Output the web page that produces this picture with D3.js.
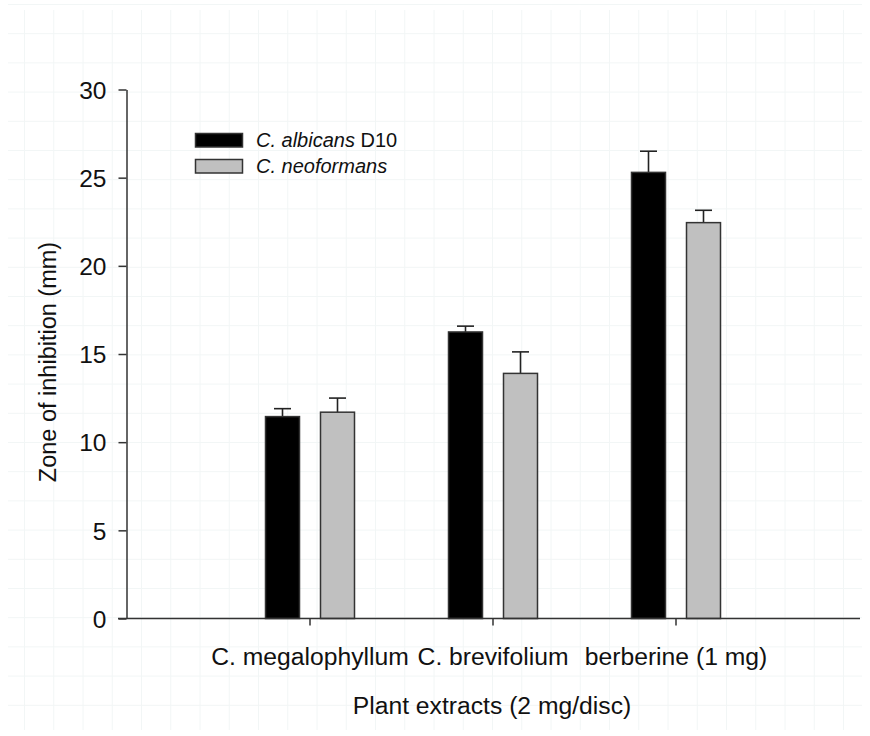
<!DOCTYPE html>
<html>
<head>
<meta charset="utf-8">
<script src="https://cdn.jsdelivr.net/npm/d3@7/dist/d3.min.js"></script>
<style>
  html, body { margin: 0; padding: 0; background: #fff; }
  svg { display: block; }
  text { font-family: "Liberation Sans", Arial, Helvetica, sans-serif; fill: #111; }
</style>
</head>
<body>
<svg id="chart" width="870" height="736"></svg>
<script>
// Plant extracts tested (2 mg/disc; berberine at 1 mg)
const categories = ["C. megalophyllum", "C. brevifolium", "berberine (1 mg)"];
const seriesNames = ["albicans", "neoformans"];

// Mean zone of inhibition (mm) and error (mm)
const albicansValues = [11.45, 16.25, 25.3];
const albicansErrors = [0.45, 0.33, 1.2];
const neoformansValues = [11.7, 13.9, 22.45];
const neoformansErrors = [0.8, 1.22, 0.7];

const yTicks = [0, 5, 10, 15, 20, 25, 30];

const series = [
  { key: "albicans", values: albicansValues, errors: albicansErrors, fill: "#000000" },
  { key: "neoformans", values: neoformansValues, errors: neoformansErrors, fill: "#c0c0c0" }
];

const svg = d3.select("#chart");

// faint background grid
const grid = svg.append("g").attr("stroke", "#f2f6f6").attr("stroke-width", 1);
for (let x = 24.5; x < 865; x += 29.25) {
  grid.append("line").attr("x1", x).attr("x2", x).attr("y1", 10).attr("y2", 730);
}
for (let y = 4.5; y < 732; y += 29.2) {
  grid.append("line").attr("x1", 8).attr("x2", 862).attr("y1", y).attr("y2", y);
}

const y = d3.scaleLinear().domain([0, 30]).range([618.5, 89.5]);
const x = d3.scaleBand().domain(categories).range([218.5, 767.5]);
const xInner = d3.scaleBand().domain(seriesNames).range([-44.5, 44.5]).paddingInner(21 / 55);
const center = c => x(c) + x.bandwidth() / 2;

// bars and error bars
series.forEach(s => {
  const g = svg.append("g");
  categories.forEach((c, i) => {
    const x0 = center(c) + xInner(s.key);
    const bw = xInner.bandwidth();
    const top = s.values[i] + s.errors[i];
    // error bar (upper only)
    g.append("line")
      .attr("x1", x0 + bw / 2).attr("x2", x0 + bw / 2)
      .attr("y1", y(s.values[i])).attr("y2", y(top))
      .attr("stroke", "#222").attr("stroke-width", 1.6);
    g.append("line")
      .attr("x1", x0 + bw / 2 - 8.5).attr("x2", x0 + bw / 2 + 8.5)
      .attr("y1", y(top)).attr("y2", y(top))
      .attr("stroke", "#222").attr("stroke-width", 1.6);
    g.append("rect")
      .attr("x", x0).attr("width", bw)
      .attr("y", y(s.values[i])).attr("height", y(0) - y(s.values[i]))
      .attr("fill", s.fill)
      .attr("stroke", "#333").attr("stroke-width", 1.5);
  });
});

// y axis
const yAxis = svg.append("g")
  .attr("transform", "translate(126.5,0)")
  .call(d3.axisLeft(y).tickValues(yTicks).tickSize(8).tickSizeOuter(0).tickPadding(12));
yAxis.selectAll("path, line").attr("stroke", "#333").attr("stroke-width", 1.5);
yAxis.selectAll("text").attr("font-size", 24.5).attr("fill", "#111")
  .attr("font-family", "'Liberation Sans', Arial, sans-serif").attr("dy", "0.36em");

// x axis baseline
svg.append("line")
  .attr("x1", 118).attr("x2", 860).attr("y1", y(0)).attr("y2", y(0))
  .attr("stroke", "#333").attr("stroke-width", 1.5);

const xAxis = svg.append("g")
  .attr("transform", `translate(0,${y(0)})`)
  .call(d3.axisBottom(x).tickSize(7).tickSizeOuter(0).tickPadding(22));
xAxis.select(".domain").remove();
xAxis.selectAll("line").attr("stroke", "#333").attr("stroke-width", 1.5);
xAxis.selectAll("text").attr("font-size", 24.7).attr("fill", "#111")
  .attr("font-family", "'Liberation Sans', Arial, sans-serif");

// axis titles
svg.append("text")
  .attr("x", 492).attr("y", 714)
  .attr("text-anchor", "middle").attr("font-size", 24.7)
  .text("Plant extracts (2 mg/disc)");

svg.append("text")
  .attr("transform", "translate(56,362) rotate(-90)")
  .attr("text-anchor", "middle").attr("font-size", 23.5)
  .text("Zone of inhibition (mm)");

// legend
const legend = svg.append("g");
const legendItems = [
  { fill: "#000000", italic: "C. albicans", plain: " D10", yTop: 133 },
  { fill: "#c0c0c0", italic: "C. neoformans", plain: "", yTop: 159 }
];
legendItems.forEach(d => {
  legend.append("rect")
    .attr("x", 195.5).attr("y", d.yTop + 0.5).attr("width", 47).attr("height", 13.5)
    .attr("fill", d.fill).attr("stroke", "#333").attr("stroke-width", 1.5);
  const t = legend.append("text")
    .attr("x", 256).attr("y", d.yTop + 13.5).attr("font-size", 20);
  t.append("tspan").attr("font-style", "italic").text(d.italic);
  if (d.plain) t.append("tspan").text(d.plain);
});
</script>
</body>
</html>
